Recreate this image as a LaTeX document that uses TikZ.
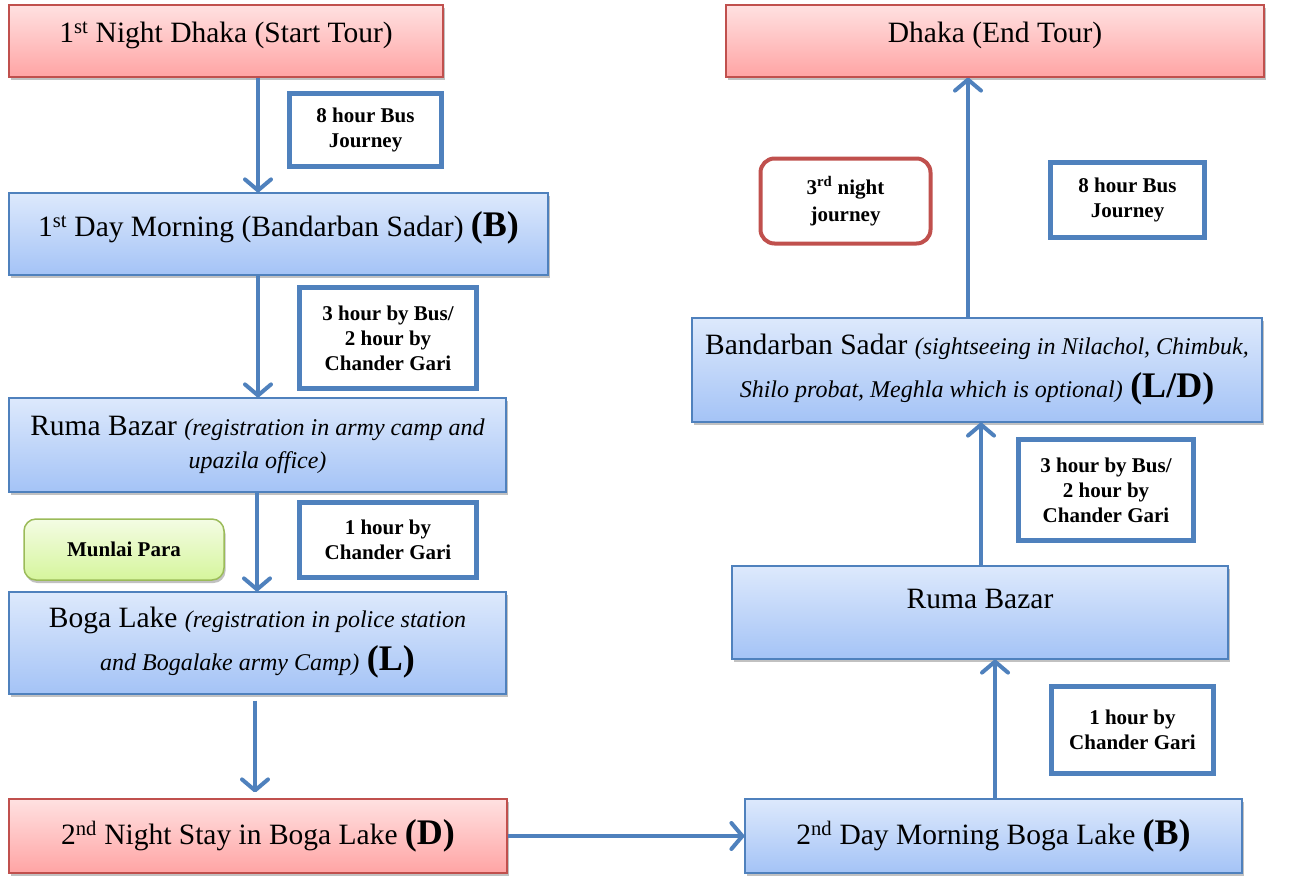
\documentclass[tikz,border=0pt]{standalone}
\usepackage{fontspec}
\setmainfont{Liberation Serif}
\usetikzlibrary{arrows.meta,shadows}
\definecolor{rline}{HTML}{C0504D}
\definecolor{bline}{HTML}{4F81BD}
\definecolor{gline}{HTML}{9BBB59}
\definecolor{rtop}{HTML}{FFE1E1}
\definecolor{rbot}{HTML}{FFA4A4}
\definecolor{btop}{HTML}{DDE9FC}
\definecolor{bbot}{HTML}{A4C3F6}
\definecolor{gtop}{HTML}{F4FCE4}
\definecolor{gbot}{HTML}{D5F59C}
\tikzset{
  shad/.style={drop shadow={shadow xshift=1.5pt,shadow yshift=-3pt,opacity=0.35,fill=black!70}},
  redbox/.style={shad,draw=rline,line width=1.2pt,top color=rtop,bottom color=rbot,align=center,inner sep=0pt,
    font=\fontsize{29.5}{34}\selectfont},
  bluebox/.style={shad,draw=bline,line width=1.2pt,top color=btop,bottom color=bbot,align=center,inner sep=0pt,
    font=\fontsize{29.5}{34}\selectfont},
  greenbox/.style={shad,draw=gline,line width=1.5pt,rounded corners=12pt,top color=gtop,bottom color=gbot,align=center,inner sep=0pt,
    font=\fontsize{21}{25}\selectfont\bfseries},
  lbl/.style={draw=bline,line width=4.5pt,fill=white,align=center,inner sep=0pt,
    font=\fontsize{21}{25}\selectfont\bfseries},
  rlbl/.style={draw=rline,line width=4pt,fill=white,rounded corners=14pt,align=center,inner sep=0pt,
    font=\fontsize{21}{27}\selectfont\bfseries},
  arr/.style={draw=bline,line width=4pt,-{Straight Barb[length=11pt,width=26pt,line cap=round,line join=round]}},
}
\newcommand{\itx}[1]{{\fontsize{24}{34}\selectfont\itshape #1}}
\newcommand{\bgx}[1]{{\fontsize{36}{34}\selectfont\bfseries #1}}
\newcommand{\up}[2]{\raisebox{#1pt}{#2}}
\begin{document}
\begin{tikzpicture}[x=1pt,y=-1pt]
\useasboundingbox (0,0) rectangle (1297,876);
% left column
\node[redbox,minimum width=434,minimum height=72] (start) at (226,41) {\up{18}{1\textsuperscript{st} Night Dhaka (Start Tour)}};
\node[lbl,minimum width=152,minimum height=73] (bus1) at (365.5,130) {\up{-3}{8 hour Bus}\\\up{-3}{Journey}};
\node[bluebox,minimum width=539,minimum height=82] (day1) at (278.5,234) {\up{19}{1\textsuperscript{st} Day Morning (Bandarban Sadar) \bgx{(B)}}};
\node[lbl,minimum width=177,minimum height=101] (bus3) at (388,338) {3 hour by Bus/\\2 hour by\\Chander Gari};
\node[bluebox,minimum width=497,minimum height=94,font=\fontsize{29.5}{33}\selectfont] (ruma1) at (257.5,445) {Ruma Bazar \itx{(registration in army camp and}\\\itx{upazila office)}};
\node[greenbox,minimum width=200,minimum height=61] (munlai) at (124,549.5) {Munlai Para};
\node[lbl,minimum width=177,minimum height=75] (hour1) at (388,540) {1 hour by\\Chander Gari};
\node[bluebox,minimum width=497,minimum height=102,font=\fontsize{29.5}{43}\selectfont] (boga) at (257.5,643) {Boga Lake \itx{(registration in police station}\\\itx{and Bogalake army Camp)} \bgx{(L)}};
\node[redbox,minimum width=498,minimum height=74] (night2) at (258,836) {\up{2}{2\textsuperscript{nd} Night Stay in Boga Lake \bgx{(D)}}};
% right column
\node[bluebox,minimum width=497,minimum height=74] (day2) at (993.5,836) {2\textsuperscript{nd} Day Morning Boga Lake \bgx{(B)}};
\node[lbl,minimum width=162,minimum height=87] (hour1r) at (1132.5,730) {1 hour by\\Chander Gari};
\node[bluebox,minimum width=496,minimum height=93] (ruma2) at (980,612.5) {\up{27}{Ruma Bazar}};
\node[lbl,minimum width=175,minimum height=101] (bus3r) at (1106,490) {3 hour by Bus/\\2 hour by\\Chander Gari};
\node[bluebox,minimum width=570,minimum height=104,font=\fontsize{29.5}{43}\selectfont] (band) at (977,370) {Bandarban Sadar \itx{(sightseeing in Nilachol, Chimbuk,}\\\itx{Shilo probat, Meghla which is optional)} \bgx{(L/D)}};
\node[rlbl,minimum width=170,minimum height=85] (night3) at (845.5,201) {3\textsuperscript{rd} night\\journey};
\node[lbl,minimum width=154,minimum height=75] (bus8r) at (1127.5,200) {8 hour Bus\\Journey};
\node[redbox,minimum width=538,minimum height=72] (endt) at (995,41) {\up{18}{Dhaka (End Tour)}};
% connector columns
\coordinate (c1) at (258,0);
\coordinate (c2) at (257,0);
\coordinate (c3) at (255,0);
\coordinate (c4) at (995,0);
\coordinate (c5) at (981,0);
\coordinate (c6) at (968,0);
\draw[arr] (start.south -| c1) -- (day1.north -| c1);
\draw[arr] (day1.south -| c1) -- (ruma1.north -| c1);
\draw[arr] (ruma1.south -| c2) -- (boga.north -| c2);
\draw[arr,shorten <=6pt,shorten >=6pt] (boga.south -| c3) -- (night2.north -| c3);
\draw[arr] (night2.east) -- (day2.west);
\draw[arr] (day2.north -| c4) -- (ruma2.south -| c4);
\draw[arr] (ruma2.north -| c5) -- (band.south -| c5);
\draw[arr] (band.north -| c6) -- (endt.south -| c6);
\end{tikzpicture}
\end{document}
